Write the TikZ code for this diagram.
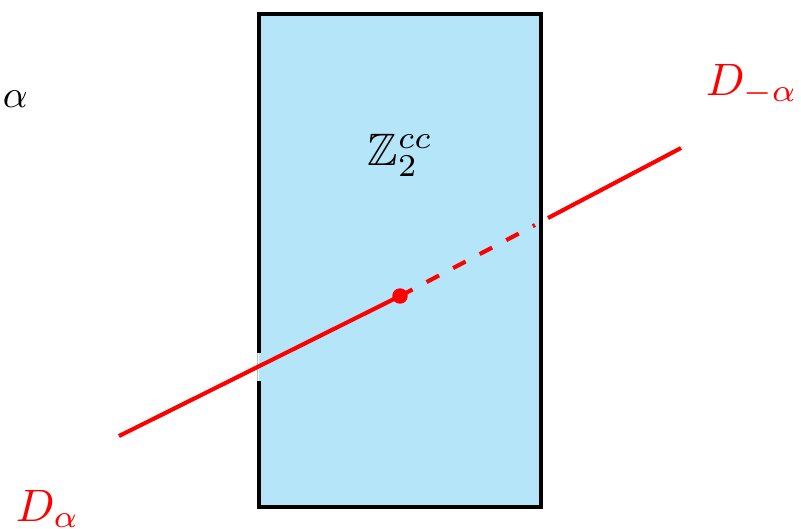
\documentclass[tikz,border=0pt]{standalone}
\usepackage{amsmath,amssymb}
\usepackage{tikz}
\usepackage{xcolor}
\usetikzlibrary{arrows.meta,positioning,calc}
\definecolor{slabblue}{RGB}{180,229,249}

\begin{document}
\begin{tikzpicture}[>=Latex, x=0.22pt, y=-0.22pt,
    wall/.style={line width=0.95pt},
    defect/.style={red, line width=0.9pt}]
  \useasboundingbox (0,0) rectangle (801,528);
  \fill[slabblue] (259,14) rectangle (541,507);
  \draw[wall] (259,353) -- (259,14) -- (541,14) -- (541,507) -- (259,507) -- (259,381);
  \draw[gray!50, line width=0.2pt] (257.5,353) -- (257.5,381);
  \coordinate (Dlow) at (119,436);
  \coordinate (mid) at (400,296);
  \coordinate (dashend) at (535,225);
  \coordinate (outer) at (548,218);
  \coordinate (Dhigh) at (681,148);
  \draw[defect] (Dlow) -- (mid);
  \draw[defect, dash pattern=on 3.1pt off 3.5pt] (mid) -- (dashend);
  \draw[defect] (outer) -- (Dhigh);
  \node[circle, fill=red, inner sep=0pt, minimum size=3.4pt] (pt) at (mid) {};
  \node[anchor=base west, inner sep=0pt, scale=0.85] (al) at (2,107) {$\alpha$};
  \node[anchor=base west, inner sep=0pt] (zz) at (367,165) {$\mathbb{Z}_2^{cc}$};
  \node[red, anchor=base west, inner sep=0pt] (dm) at (705,95) {$D_{-\alpha}$};
  \node[red, anchor=base west, inner sep=0pt] (dp) at (15,521) {$D_\alpha$};
\end{tikzpicture}
\end{document}
